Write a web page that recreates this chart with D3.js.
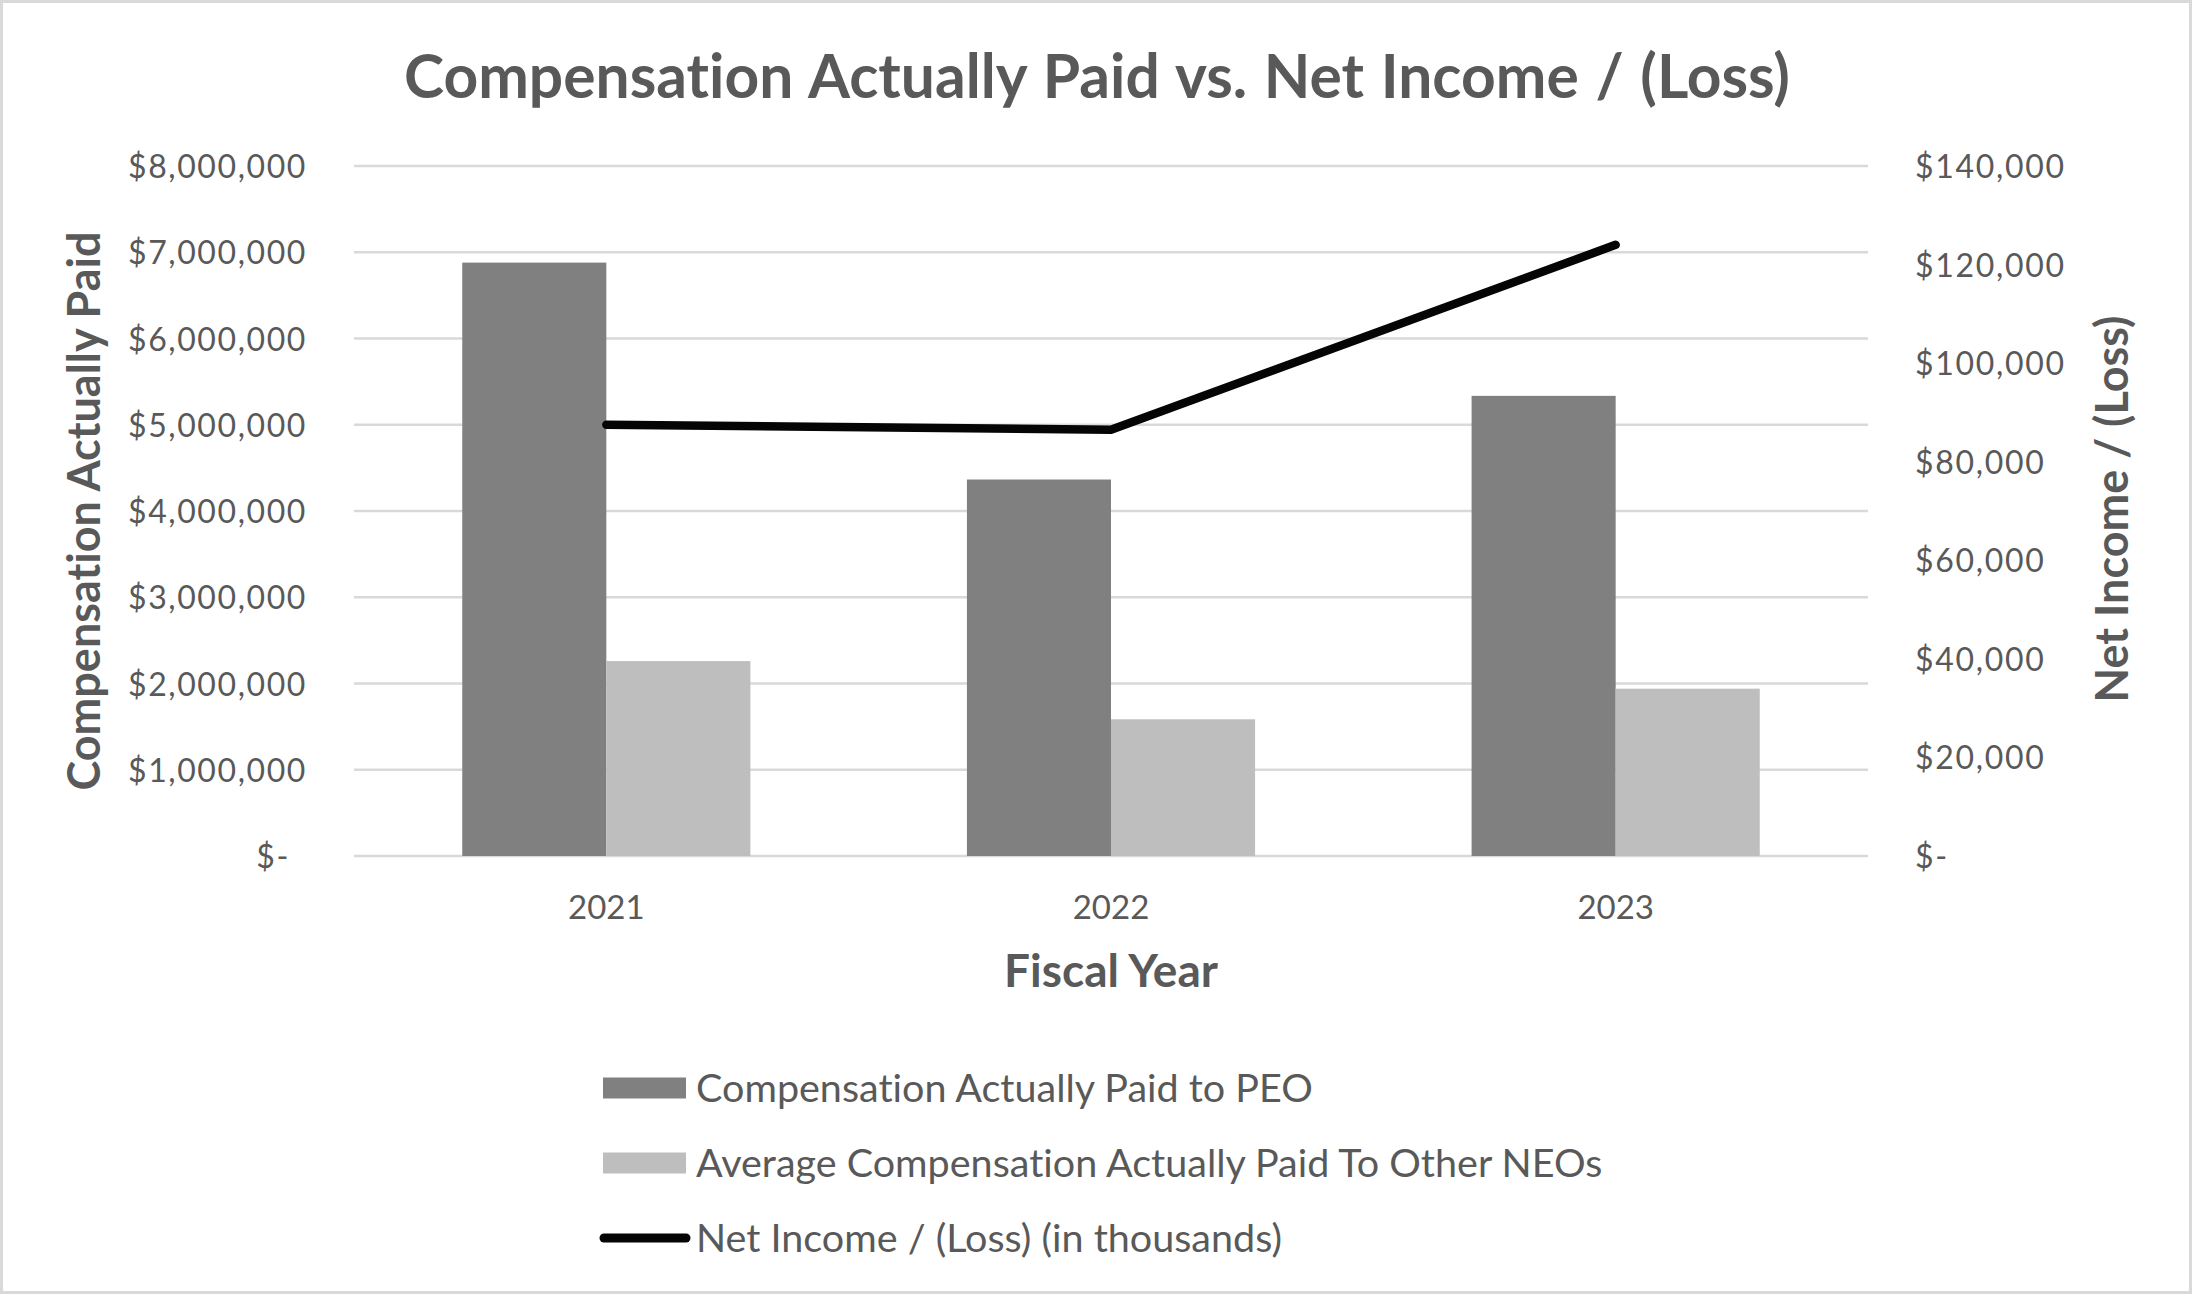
<!DOCTYPE html>
<html>
<head>
<meta charset="utf-8">
<script src="https://cdn.jsdelivr.net/npm/d3@7"></script>
<style>
  html, body { margin: 0; padding: 0; background: #fff; }
  svg { display: block; }
  text { font-family: Lato, "Open Sans", sans-serif; fill: #595959; font-variant-ligatures: none; font-feature-settings: "liga" 0, "clig" 0; }
</style>
</head>
<body>
<script>
// ---- data ----
const years = ["2021", "2022", "2023"];
const peoPaid = [6880000, 4365000, 5335000];
const neoPaid = [2260000, 1585000, 1940000];
const netIncome = [87500, 86500, 124000];
const leftTicks = [0, 1000000, 2000000, 3000000, 4000000, 5000000, 6000000, 7000000, 8000000];
const rightTicks = [0, 20000, 40000, 60000, 80000, 100000, 120000, 140000];
const seriesNames = ["Compensation Actually Paid to PEO", "Average Compensation Actually Paid To Other NEOs", "Net Income / (Loss) (in thousands)"];
const titleText = "Compensation Actually Paid vs. Net Income / (Loss)";
const leftTitle = "Compensation Actually Paid";
const rightTitle = "Net Income / (Loss)";
const xTitle = "Fiscal Year";

// ---- layout ----
const W = 2192, H = 1296;
const plot = { left: 354, right: 1868, top: 166, bottom: 856 };
const colors = { peo: "#7f807f", neo: "#bfbebf", line: "#050505", grid: "#d9d9d9", text: "#595959" };

const svg = d3.select("body").append("svg").attr("width", W).attr("height", H);
svg.append("rect").attr("x", 0).attr("y", 0).attr("width", W).attr("height", H).attr("fill", "#fff");
svg.append("rect").attr("x", 1.5).attr("y", 1.5).attr("width", W - 3).attr("height", H - 5)
  .attr("fill", "none").attr("stroke", colors.grid).attr("stroke-width", 3);

const x = d3.scaleBand().domain(years).range([plot.left, plot.right]).paddingInner(0.429).paddingOuter(0.2145);
const xs = d3.scaleBand().domain([0, 1]).range([0, x.bandwidth()]);
const yL = d3.scaleLinear().domain([0, 8000000]).range([plot.bottom, plot.top]);
const yR = d3.scaleLinear().domain([0, 140000]).range([plot.bottom, plot.top]);

// gridlines
svg.append("g").selectAll("line").data(leftTicks).join("line")
  .attr("x1", plot.left).attr("x2", plot.right)
  .attr("y1", d => yL(d)).attr("y2", d => yL(d))
  .attr("stroke", colors.grid).attr("stroke-width", 2.5);

// left axis labels
const fmtL = d => d === 0 ? "$-" : "$" + d3.format(",")(d);
const gL = svg.append("g").attr("transform", `translate(${plot.left - 47},0)`)
  .call(d3.axisLeft(yL).tickValues(leftTicks).tickFormat(fmtL).tickSize(0).tickPadding(0));
gL.select(".domain").remove();
gL.selectAll("text").attr("font-size", 32).attr("fill", colors.text).attr("dy", "0.36em")
  .attr("font-family", "Lato").attr("letter-spacing", 1.6)
  .attr("dx", d => d === 0 ? -17 : 0);

// right axis labels
const fmtR = d => d === 0 ? "$-" : "$" + d3.format(",")(d);
const gR = svg.append("g").attr("transform", `translate(${plot.right + 47},0)`)
  .call(d3.axisRight(yR).tickValues(rightTicks).tickFormat(fmtR).tickSize(0).tickPadding(0));
gR.select(".domain").remove();
gR.selectAll("text").attr("font-size", 32).attr("fill", colors.text).attr("dy", "0.36em")
  .attr("font-family", "Lato").attr("letter-spacing", 1.7);

// bars
const groups = svg.append("g").selectAll("g").data(years).join("g")
  .attr("transform", d => `translate(${x(d)},0)`);
groups.append("rect")
  .attr("x", xs(0)).attr("width", xs.bandwidth())
  .attr("y", (d, i) => yL(peoPaid[i])).attr("height", (d, i) => yL(0) - yL(peoPaid[i]))
  .attr("fill", colors.peo);
groups.append("rect")
  .attr("x", xs(1)).attr("width", xs.bandwidth())
  .attr("y", (d, i) => yL(neoPaid[i])).attr("height", (d, i) => yL(0) - yL(neoPaid[i]))
  .attr("fill", colors.neo);

// line
const line = d3.line().x((d, i) => x(years[i]) + x.bandwidth() / 2).y(d => yR(d));
svg.append("path").datum(netIncome).attr("d", line)
  .attr("fill", "none").attr("stroke", colors.line).attr("stroke-width", 8.5)
  .attr("stroke-linecap", "round").attr("stroke-linejoin", "round");

// x axis labels
const gX = svg.append("g").attr("transform", `translate(0,${plot.bottom})`)
  .call(d3.axisBottom(x).tickSize(0).tickPadding(0));
gX.select(".domain").remove();
gX.selectAll("text").attr("font-size", 33).attr("fill", colors.text).attr("dy", 0).attr("y", 63)
  .attr("font-family", "Lato");

// title
svg.append("text").attr("x", 1097).attr("y", 98).attr("text-anchor", "middle")
  .attr("font-size", 60.5).attr("font-weight", 700).attr("word-spacing", 2).text(titleText);

// axis titles
svg.append("text").attr("transform", `translate(100,${(plot.top + plot.bottom) / 2}) rotate(-90)`)
  .attr("text-anchor", "middle").attr("font-size", 45).attr("font-weight", 700).text(leftTitle);
svg.append("text").attr("transform", `translate(2128,${(plot.top + plot.bottom) / 2 - 2}) rotate(-90)`)
  .attr("text-anchor", "middle").attr("font-size", 45).attr("font-weight", 700).text(rightTitle);
svg.append("text").attr("x", (plot.left + plot.right) / 2).attr("y", 987).attr("text-anchor", "middle")
  .attr("font-size", 46).attr("font-weight", 700).text(xTitle);

// legend
const legY = d3.scalePoint().domain(seriesNames).range([1088, 1238]);
const leg = svg.append("g");
leg.append("rect").attr("x", 603).attr("width", 83).attr("y", legY(seriesNames[0]) - 10.5).attr("height", 21).attr("fill", colors.peo);
leg.append("rect").attr("x", 603).attr("width", 83).attr("y", legY(seriesNames[1]) - 10.5).attr("height", 21).attr("fill", colors.neo);
leg.append("line").attr("x1", 604).attr("x2", 686).attr("y1", legY(seriesNames[2])).attr("y2", legY(seriesNames[2]))
  .attr("stroke", colors.line).attr("stroke-width", 9).attr("stroke-linecap", "round");
leg.selectAll("text").data(seriesNames).join("text")
  .attr("x", 696).attr("y", d => legY(d)).attr("dy", "0.36em")
  .attr("font-size", 39.5).text(d => d);
</script>
</body>
</html>
